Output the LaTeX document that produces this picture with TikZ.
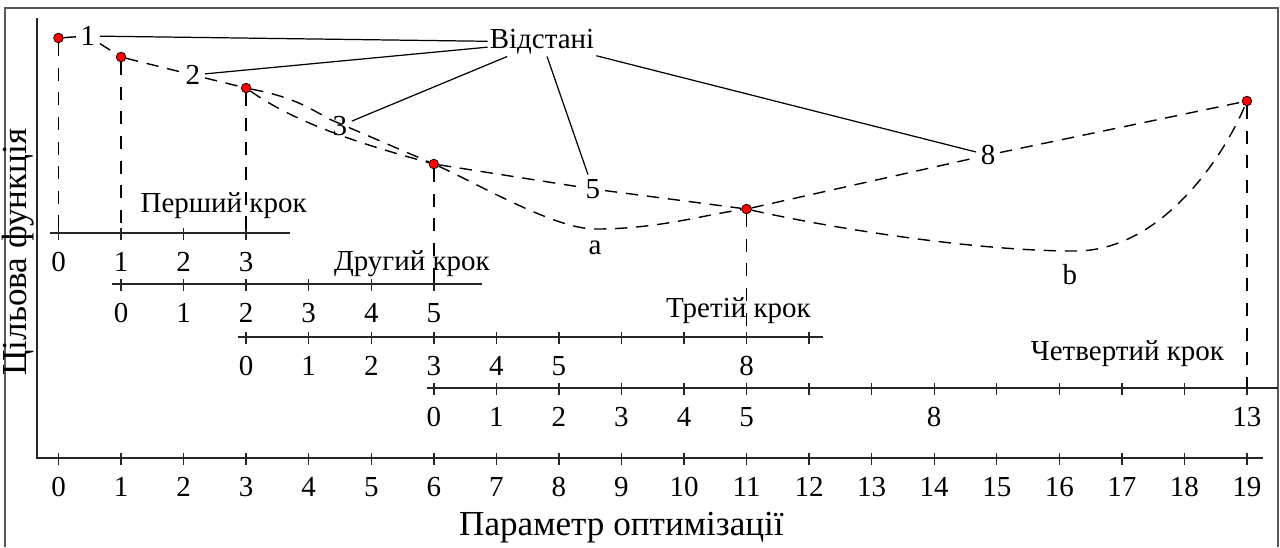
\documentclass[tikz,border=0pt]{standalone}
\usepackage{fontspec}
\setmainfont{Liberation Serif}
\usetikzlibrary{positioning}
\tikzset{
  framebox/.style={draw=black!65,line width=1.1pt},
  axisline/.style={draw=black!85,line width=1pt},
  tickmark/.style={draw=black!85,line width=0.8pt},
  dropline/.style={dash pattern=on 7.4pt off 6.6pt,line width=0.8pt},
  fcurve/.style={dash pattern=on 7pt off 5pt,line width=0.8pt},
  leader/.style={line width=0.7pt},
  optpoint/.style={circle,fill=red,draw=black,line width=0.4pt,inner sep=0pt,minimum size=5.5pt},
  numlbl/.style={anchor=base},
  steplbl/.style={anchor=base},
  axtitle/.style={font=\fontsize{20}{24}\selectfont},
  distlbl/.style={inner sep=2.5pt}
}

\begin{document}
\begin{tikzpicture}[x=1.251cm,y=-0.02cm,font=\fontsize{16.5}{19}\selectfont]
  \useasboundingbox (-0.9353,0) rectangle (19.5284,547);

  % outer frame
  \draw[framebox] (-0.855,547) -- (-0.855,8) -- (19.495,8) -- (19.495,547);

  % main axes
  \coordinate (orig) at (-0.344,458);
  \draw[axisline] (-0.344,18) -- (orig) -- (19.256,458);
  \foreach \k in {0,...,19} {
    \draw[tickmark] (\k,453) -- (\k,465);
    \node[numlbl] at (\k,496) {\k};
  }
  \node[axtitle,anchor=base] (xtitle) at (9.0,535) {Параметр оптимізації};
  \node[axtitle,rotate=90] (ytitle) at (-0.6475,252) {Цільова функція};

  % step axes
  \coordinate (s1) at (-0.14,233);
  \coordinate (s2) at (0.855,284);
  \coordinate (s3) at (2.87,337);
  \coordinate (s4) at (5.89,388);
  \draw[axisline] (s1) -- (3.70,233);
  \draw[axisline] (s2) -- (6.77,284);
  \draw[axisline] (s3) -- (12.22,337);
  \draw[axisline] (s4) -- (19.49,388);
  \foreach \k in {0,...,3} \draw[tickmark] (\k,228) -- (\k,240);
  \foreach \k in {1,...,6} \draw[tickmark] (\k,279) -- (\k,291);
  \foreach \k in {3,...,12} \draw[tickmark] (\k,332) -- (\k,344);
  \foreach \k in {6,...,19} \draw[tickmark] (\k,383) -- (\k,395);
  \foreach \k/\v in {0/0,1/1,2/2,3/3}
    \node[numlbl] at (\k,271) {\v};
  \foreach \k/\v in {1/0,2/1,3/2,4/3,5/4,6/5}
    \node[numlbl] at (\k,322) {\v};
  \foreach \k/\v in {3/0,4/1,5/2,6/3,7/4,8/5,11/8}
    \node[numlbl] at (\k,375) {\v};
  \foreach \k/\v in {6/0,7/1,8/2,9/3,10/4,11/5,14/8,19/13}
    \node[numlbl] at (\k,426) {\v};

  \node[steplbl] (step1) at (2.64,212) {Перший крок};
  \node[steplbl] (step2) at (5.65,270) {Другий крок};
  \node[steplbl] (step3) at (10.87,317) {Третій крок};
  \node[steplbl] (step4) at (17.09,360) {Четвертий крок};

  % trial points
  \node[optpoint] (p0) at (0,38) {};
  \node[optpoint] (p1) at (1,57) {};
  \node[optpoint] (p3) at (3,88) {};
  \node[optpoint] (p6) at (6,164) {};
  \node[optpoint] (p11) at (11,209) {};
  \node[optpoint] (p19) at (19,101) {};

  \draw[dropline] (p0) -- (p0 |- s1);
  \draw[dropline] (p1) -- (p1 |- s1);
  \draw[dropline] (p3) -- (p3 |- s1);
  \draw[dropline] (p6) -- (p6 |- s2);
  \draw[dropline] (p11) -- (p11 |- s3);
  \draw[dropline] (p19) -- (p19 |- s4);

  % distances
  \node[distlbl] (l1) at (0.47,36) {1};
  \node[distlbl] (l2) at (2.15,75) {2};
  \node[distlbl] (l3) at (4.50,126) {3};
  \node[distlbl] (l5) at (8.545,189) {5};
  \node[distlbl] (l8) at (14.86,155) {8};
  \node[inner sep=1pt] (vid) at (7.73,42) {Відстані};

  \draw[fcurve] (p0) -- (l1) -- (p1) -- (l2) -- (p3) to[bend left=10] (l3)
    -- (p6) -- (l5) -- (p11) -- (l8) -- (p19);
  \draw[fcurve] (p3) .. controls (3.9,128) and (5.2,150) .. (p6);

  \coordinate (amin) at (8.58,229);
  \draw[fcurve] (p6) .. controls (6.74,185) and (7.94,229) .. (amin)
    .. controls (9.58,229) and (10.3,215) .. (p11);
  \node (la) at (8.58,248) {a};

  \coordinate (bmin) at (16.25,251);
  \draw[fcurve] (p11) .. controls (12.5,230) and (14.73,251) .. (bmin)
    .. controls (17.61,251) and (18.6,160) .. (p19);
  \node (lb) at (16.17,275) {b};

  \foreach \t in {l1,l2,l3,l5,l8}
    \draw[leader] (vid) -- (\t);

\end{tikzpicture}
\end{document}
